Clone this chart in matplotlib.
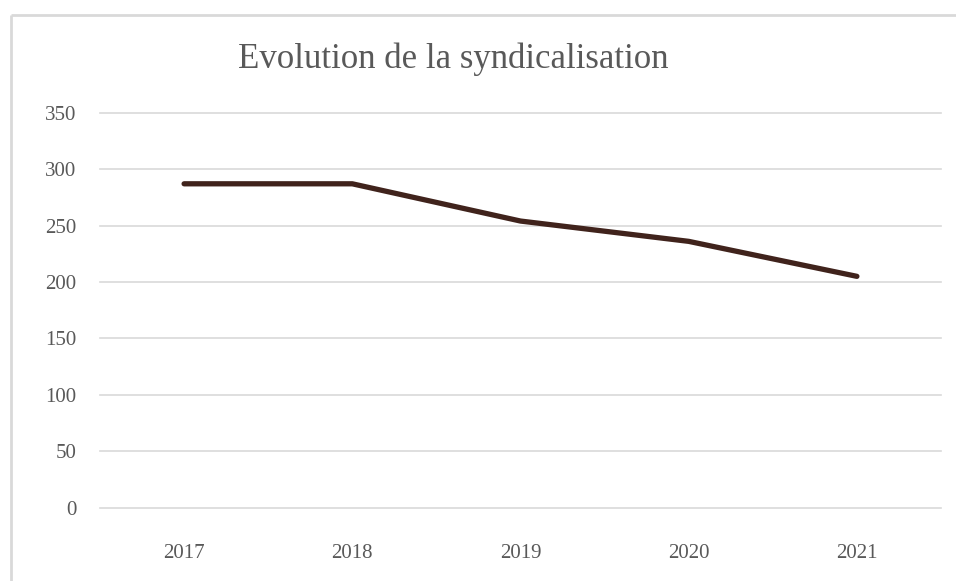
import matplotlib
matplotlib.use("Agg")
import matplotlib.pyplot as plt
from matplotlib.lines import Line2D

years = ["2017", "2018", "2019", "2020", "2021"]
values = [287, 287, 254, 236, 205]
yticks = [0, 50, 100, 150, 200, 250, 300, 350]
title = "Evolution de la syndicalisation"

W, H = 956, 581
fig = plt.figure(figsize=(W / 100, H / 100), dpi=100)
fig.patch.set_facecolor("white")

ax = fig.add_axes([100 / W, 1 - 507.7 / H, 841 / W, (507.7 - 112.7) / H])
x = list(range(len(years)))
ax.plot(x, values, color="#40231c", linewidth=3.8, solid_capstyle="round",
        solid_joinstyle="round", zorder=3)
ax.set_xlim(-0.5, len(years) - 0.5)
ax.set_ylim(0, 350)
ax.set_yticks(yticks)
ax.set_yticklabels([str(v) for v in yticks])
ax.set_xticks(x)
ax.set_xticklabels(years)
ax.grid(axis="y", color="#d9d9d9", linewidth=1.2)
for gl in ax.get_ygridlines():
    gl.set_clip_on(False)
ax.set_axisbelow(True)
for s in ax.spines.values():
    s.set_visible(False)
ax.tick_params(axis="both", length=0, labelsize=15, labelcolor="#595959")
ax.tick_params(axis="y", pad=17)
ax.tick_params(axis="x", pad=26)
for lab in ax.get_xticklabels() + ax.get_yticklabels():
    lab.set_fontfamily("Liberation Serif")

fig.text(453 / W, 1 - 59 / H, title, ha="center", va="center",
         fontsize=25, color="#595959", family="Liberation Serif")

# chart frame (top and left edges)
fig.add_artist(Line2D([10.5 / W, 1], [1 - 14.5 / H, 1 - 14.5 / H],
                      color="#d9d9d9", linewidth=2, transform=fig.transFigure,
                      solid_capstyle="butt"))
fig.add_artist(Line2D([10.5 / W, 10.5 / W], [0, 1 - 14.5 / H],
                      color="#d9d9d9", linewidth=2, transform=fig.transFigure,
                      solid_capstyle="butt"))

fig.savefig("out.png", dpi=100, facecolor="white")
